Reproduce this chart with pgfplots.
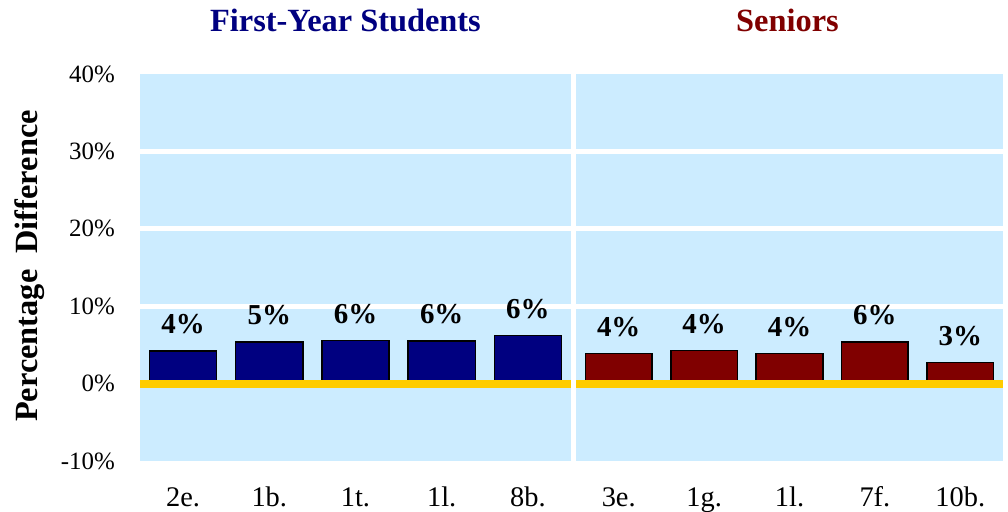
\documentclass[border=0pt]{standalone}
\usepackage{fontspec}
\setmainfont{Liberation Serif}
\usepackage{pgfplots}
\pgfplotsset{compat=1.18}
\definecolor{panelblue}{RGB}{204,236,255}
\definecolor{navybar}{RGB}{0,0,128}
\definecolor{maroonbar}{RGB}{128,0,0}
\definecolor{goldline}{RGB}{255,204,0}
\begin{document}
\begin{tikzpicture}
\pgfplotsset{
  panel/.style={
    scale only axis,
    width=#1, height=387bp,
    ymin=-10, ymax=40,
    xmin=-0.5, xmax=4.5,
    enlarge x limits=false,
    axis background/.style={fill=panelblue},
    axis line style={draw=none},
    tick style={draw=none},
    major tick length=0pt,
    ytick={-10,0,10,20,30,40},
    extra y ticks={10,20,30},
    extra y tick labels={},
    extra y tick style={grid=major},
    grid style={white, line width=5bp},
    xtick={0,1,2,3,4},
    xticklabel style={anchor=base, inner sep=0pt, yshift=-45bp, font=\fontsize{28.5}{28.5}\selectfont},
    yticklabel style={anchor=east, inner sep=0pt, xshift=-25bp, font=\fontsize{25}{25}\selectfont},
    ybar, bar width=0.78,
    nodes near coords,
    point meta=explicit symbolic,
    nodes near coords style={anchor=south, inner sep=0pt, yshift=16bp, font=\bfseries\fontsize{29}{29}\selectfont, text=black},
    clip=false,
  },
}
\begin{axis}[panel=431bp,
  at={(140bp,51bp)}, anchor=south west,
  yticklabels={-10\%,0\%,10\%,20\%,30\%,40\%},
  xticklabels={2e.,1b.,1t.,1l.,8b.},
  title={First-Year Students},
  title style={at={(0.5,1)}, anchor=base, inner sep=0pt, yshift=37bp, xshift=-10bp, font=\bfseries\fontsize{32.5}{32.5}\selectfont, text=navybar},
]
\addplot[fill=navybar, draw=black, line width=1.5bp] coordinates {
  (0,4.2) [4\%]
  (1,5.4) [5\%]
  (2,5.6) [6\%]
  (3,5.5) [6\%]
  (4,6.2) [6\%]
};
\addplot[sharp plot, goldline, line width=8bp, nodes near coords={}, forget plot] coordinates {(-0.5,0) [] (4.5,0) []};
\end{axis}
\begin{axis}[panel=427bp,
  at={(576bp,51bp)}, anchor=south west,
  yticklabels={},
  xticklabels={3e.,1g.,1l.,7f.,10b.},
  title={Seniors},
  title style={at={(0.5,1)}, anchor=base, inner sep=0pt, yshift=37bp, xshift=-2bp, font=\bfseries\fontsize{32.5}{32.5}\selectfont, text=maroonbar},
]
\addplot[fill=maroonbar, draw=black, line width=1.5bp] coordinates {
  (0,3.9) [4\%]
  (1,4.3) [4\%]
  (2,3.9) [4\%]
  (3,5.4) [6\%]
  (4,2.7) [3\%]
};
\addplot[sharp plot, goldline, line width=8bp, nodes near coords={}, forget plot] coordinates {(-0.5,0) [] (4.5,0) []};
\end{axis}
\node[rotate=90, anchor=center, inner sep=0pt, font=\bfseries\fontsize{32.5}{32.5}\selectfont] at (30bp,246bp) {Percentage\hspace{0.5em}Difference};
\pgfresetboundingbox
\path[use as bounding box] (0,0) rectangle (1008bp,512bp);
\end{tikzpicture}
\end{document}
